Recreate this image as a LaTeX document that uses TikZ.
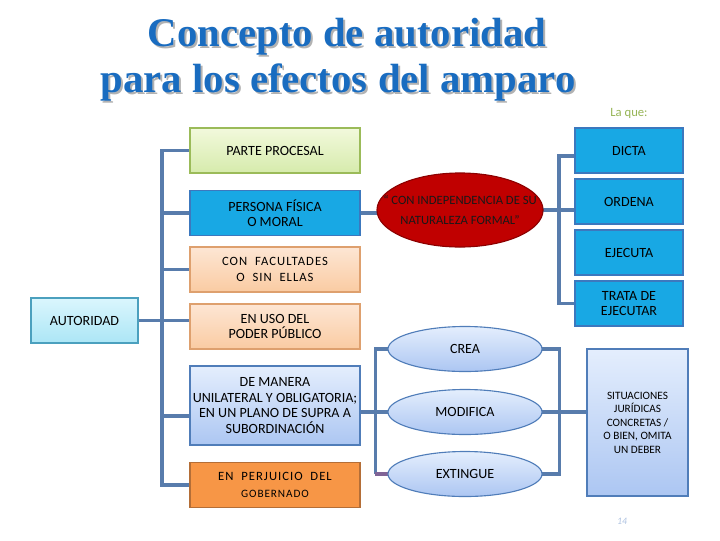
\documentclass[tikz,border=0pt]{standalone}
\usepackage{fontspec}
\setmainfont{Carlito}
\newfontfamily\titlefont{Liberation Serif}
\newfontfamily\widefont[LetterSpace=8]{Carlito}
\usetikzlibrary{shapes.geometric, positioning, backgrounds}

\definecolor{linec}{RGB}{88,124,172}
\definecolor{titlec}{RGB}{25,108,192}
\definecolor{lagreen}{RGB}{150,180,85}
\definecolor{greentop}{RGB}{242,249,220}
\definecolor{greenbot}{RGB}{214,235,172}
\definecolor{greenline}{RGB}{155,187,89}
\definecolor{bluebox}{RGB}{24,168,228}
\definecolor{blueline}{RGB}{60,120,190}
\definecolor{peachtop}{RGB}{253,230,212}
\definecolor{peachbot}{RGB}{250,203,162}
\definecolor{peachline}{RGB}{222,160,110}
\definecolor{orangefill}{RGB}{247,150,70}
\definecolor{orangeline}{RGB}{180,110,55}
\definecolor{lavtop}{RGB}{228,238,253}
\definecolor{lavbot}{RGB}{172,198,242}
\definecolor{lavline}{RGB}{80,125,185}
\definecolor{cyantop}{RGB}{218,246,253}
\definecolor{cyanbot}{RGB}{172,230,246}
\definecolor{cyanline}{RGB}{75,160,190}
\definecolor{redfill}{RGB}{192,0,0}
\definecolor{redline}{RGB}{140,0,0}
\definecolor{purpc}{RGB}{128,100,150}
\definecolor{pagec}{RGB}{175,195,225}

\begin{document}
\begin{tikzpicture}[x=0.025cm, y=-0.025cm,
    link/.style={draw=linec, line width=2.6pt},
    box/.style={rectangle, draw, line width=0.8pt, minimum width=4.25cm,
      minimum height=1.125cm, inner sep=1pt, align=center,
      font=\fontsize{10}{11}\selectfont},
    peach/.style={top color=peachtop, bottom color=peachbot, draw=peachline},
    lav/.style={top color=lavtop, bottom color=lavbot, draw=lavline},
    rbox/.style={box, fill=bluebox, draw=blueline, minimum width=2.7cm},
    oval/.style={ellipse, lav, line width=0.8pt, minimum width=3.85cm,
      minimum height=1.125cm, inner sep=0pt, font=\fontsize{10}{11}\selectfont},
    ttl/.style={anchor=base, font=\titlefont\bfseries\fontsize{29}{32}\selectfont}]
  \useasboundingbox (0,0) rectangle (720,540);

  % title with its shadow
  \foreach \txt/\xx/\yy [count=\i] in {Concepto de autoridad/347/46, para los efectos del amparo/338/92} {
    \node[ttl, text=black!30] (shadow\i) at (\xx+2,\yy+2) {\txt};
    \node[ttl, text=titlec] (title\i) at (\xx,\yy) {\txt};
  }
  \node[text=lagreen, font=\fontsize{9}{10}\selectfont] (laque) at (629,113) {La que:};

  % left column
  \node[box, top color=greentop, bottom color=greenbot, draw=greenline] (parte) at (275,150.5) {PARTE PROCESAL};
  \node[box, fill=bluebox, draw=blueline] (persona) at (275,213) {PERSONA FÍSICA\\O MORAL};
  \node[box, peach, font=\widefont\fontsize{9}{11}\selectfont] (facultades) at (275,269.5) {CON~ FACULTADES\\O~ SIN~ ELLAS};
  \node[box, peach] (uso) at (275,326.5) {EN USO DEL\\PODER PÚBLICO};
  \node[box, lav, minimum height=1.975cm] (manera) at (275,405.5) {DE MANERA\\UNILATERAL Y OBLIGATORIA;\\EN UN PLANO DE SUPRA A\\SUBORDINACIÓN};
  \node[box, fill=orangefill, draw=orangeline, font=\widefont\fontsize{9}{11.5}\selectfont] (perjuicio) at (275,485) {EN~ PERJUICIO~ DEL\\{\fontsize{8}{9}\selectfont GOBERNADO}};
  \node[box, top color=cyantop, bottom color=cyanbot, draw=cyanline, minimum width=2.675cm] (aut) at (84.5,320.5) {AUTORIDAD};

  % nature of the act (the text runs past the ellipse, as in the slide)
  \node[ellipse, draw=redline, fill=redfill, line width=0.8pt, minimum width=4.15cm,
    minimum height=1.85cm, inner sep=0pt, align=center, text=black!90,
    font=\fontsize{9}{14}\selectfont] (formal) at (460,210)
    {\makebox[0pt]{“ CON INDEPENDENCIA DE SU}\\\makebox[0pt]{NATURALEZA FORMAL”}};

  % right column
  \node[rbox] (dicta) at (629,150.5) {DICTA};
  \node[rbox] (ordena) at (629,201.5) {ORDENA};
  \node[rbox] (ejecuta) at (629,252.5) {EJECUTA};
  \node[rbox] (trata) at (629,303.5) {TRATA DE\\EJECUTAR};

  % effects
  \node[oval] (crea) at (465,349) {CREA};
  \node[oval] (modifica) at (465,412) {MODIFICA};
  \node[oval] (extingue) at (465,474) {EXTINGUE};
  \node[box, lav, minimum width=2.525cm, minimum height=3.675cm,
    font=\fontsize{8}{9.6}\selectfont] (sit) at (637.5,422.5) {SITUACIONES\\JURÍDICAS\\CONCRETAS /\\O BIEN, OMITA\\UN DEBER};
  \node[text=pagec, font=\fontsize{7}{8}\selectfont\itshape] (page) at (622,521) {14};

  % connectors, behind the boxes
  \begin{pgfonlayer}{background}
  \coordinate (busL) at (162,0);
  \draw[link] (parte.west) -| (busL |- perjuicio.west) -- (perjuicio.west);
  \foreach \n in {persona, facultades}
    \draw[link] (\n.west) -- (busL |- \n.west);
  \draw[link] (aut.east) -- (aut.east -| uso.west);
  \coordinate (manL) at ([yshift=-0.27cm]manera.west);
  \draw[link] (manL) -- (busL |- manL);

  \coordinate (busR) at (559,0);
  \coordinate (dictaL) at ([yshift=-0.14cm]dicta.west);
  \draw[link] (persona.east) -- (persona.east -| formal.center);
  \draw[link] (formal.center) -- (formal.center -| ordena.west);
  \draw[link] (dictaL) -| (busR |- trata.west) -- (trata.west);

  \coordinate (manR) at ([yshift=-0.16cm]manera.east);
  \draw[link] (manR) -- (manR -| modifica.center);
  \draw[link] (crea.center) -- (crea.west) -- ++(-12,0) coordinate (creaL) -- (creaL |- extingue.west);
  \draw[link, draw=purpc] (creaL |- extingue.west) -- (extingue.center);
  \draw[link] (crea.center) -- (crea.east) -- ++(17,0) |- (extingue.center);
  \draw[link] (modifica.center) -- (modifica.center -| sit.west);
  \end{pgfonlayer}
\end{tikzpicture}
\end{document}
